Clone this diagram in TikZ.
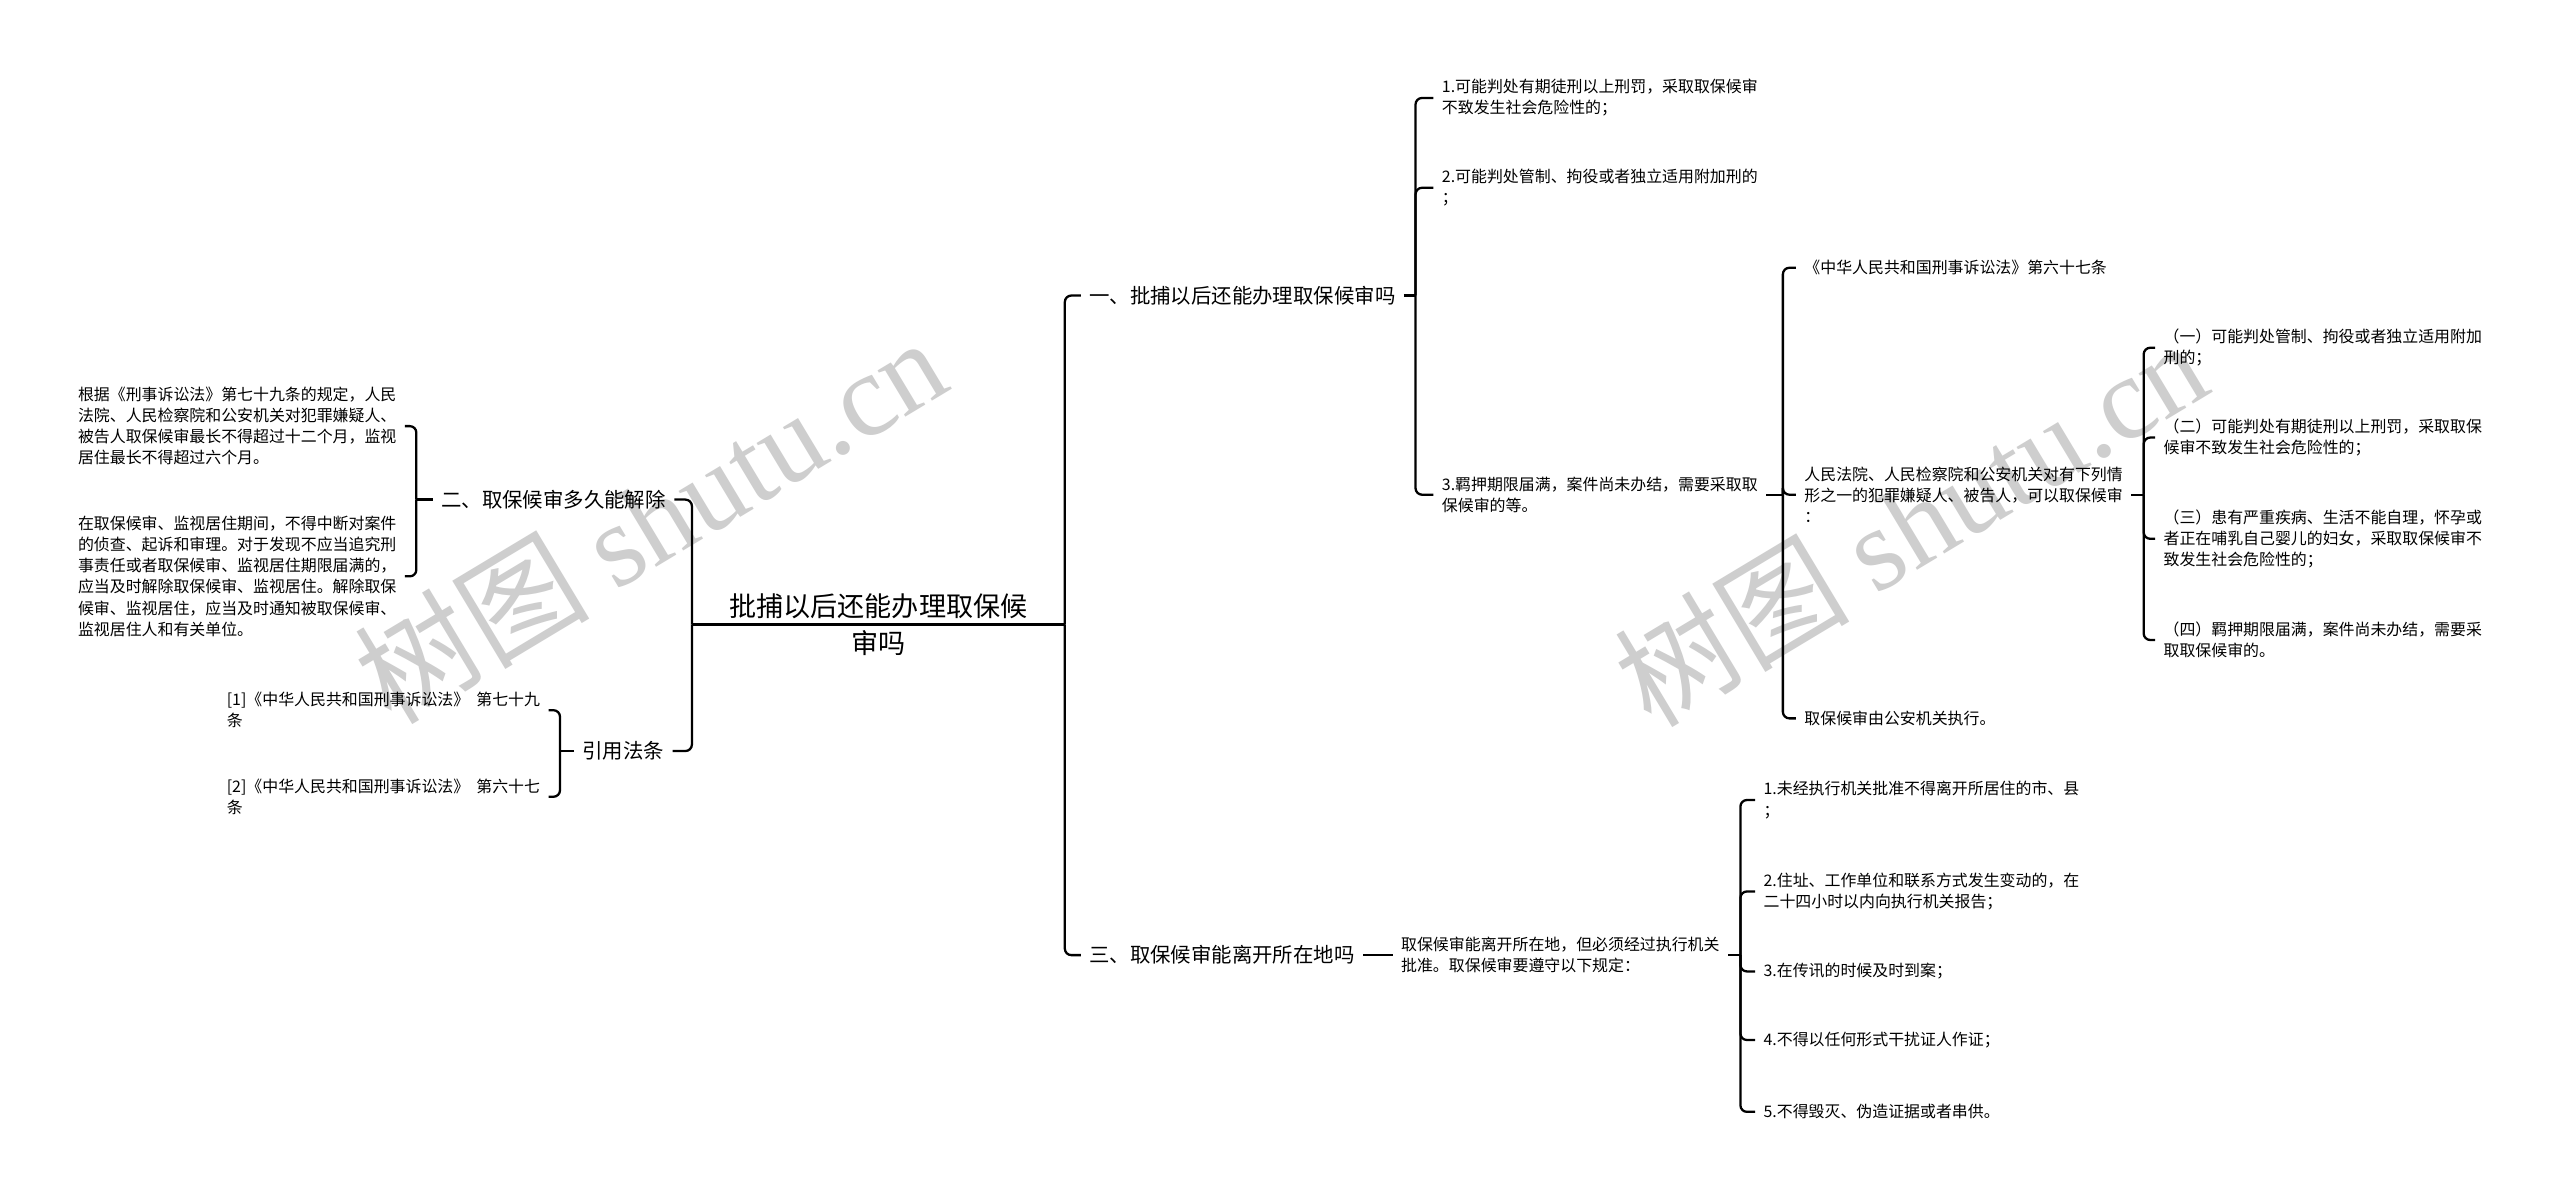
\documentclass[tikz,border=0pt]{standalone}
\usepackage{fontspec}
\setmainfont{Noto Sans CJK SC}
\newfontfamily\wmserif{Liberation Serif}
\definecolor{wmgray}{RGB}{206,206,206}
\tikzset{
  conn/.style={line width=1.4pt, rounded corners=4pt},
  rootbox/.style={font=\fontsize{16.6}{23}\selectfont, align=center, text width=228pt, inner sep=0pt},
  lvl/.style={font=\fontsize{12.5}{16}\selectfont, inner xsep=5pt, inner ysep=0pt},
  leaf/.style={font=\fontsize{9.75}{12.9}\selectfont, align=left, inner xsep=5pt, inner ysep=0pt},
  wm/.style={text=wmgray, font=\fontsize{72}{80}\selectfont, inner sep=0pt}
}
\begin{document}
\begin{tikzpicture}[x=1pt,y=-1pt]
\fill[white] (0,0) rectangle (1568,734);
\useasboundingbox (0,0) rectangle (1568,734);
% watermarks
\node[wm, rotate=31] (w1) at (398,318) {树图 {\wmserif shutu.cn}};
\node[wm, rotate=31] (w2) at (1170,320) {树图 {\wmserif shutu.cn}};
% root
\node[rootbox] (root) at (538,382.5) {批捕以后还能办理取保候\\审吗};
% level 1
\node[lvl, anchor=west] (b1) at (662,181) {一、批捕以后还能办理取保候审吗};
\node[lvl, anchor=east] (b2) at (413,306) {二、取保候审多久能解除};
\node[lvl, anchor=east] (b4) at (412,460) {引用法条};
\node[lvl, anchor=west] (b3) at (662,585) {三、取保候审能离开所在地吗};
\draw[conn] (root.west) -- (root.east);
\draw[conn] (root.east) |- (b1.west);
\draw[conn] (root.east) |- (b3.west);
\draw[conn] (root.west) |- (b2.east);
\draw[conn] (root.west) |- (b4.east);
% branch 1
\coordinate (s1) at (867,181);
\node[leaf, anchor=west] (a1) at (878,60) {1.可能判处有期徒刑以上刑罚，采取取保候审\\不致发生社会危险性的；};
\node[leaf, anchor=west] (a2) at (878,115) {2.可能判处管制、拘役或者独立适用附加刑的\\；};
\node[leaf, anchor=west] (a3) at (878,303) {3.羁押期限届满，案件尚未办结，需要采取取\\保候审的等。};
\draw[conn] (b1.east) -- (s1);
\draw[conn] (s1) |- (a1.west);
\draw[conn] (s1) |- (a2.west);
\draw[conn] (s1) |- (a3.west);
% branch 1 item 3
\coordinate (s3) at (1092,303);
\node[leaf, anchor=west] (c1) at (1100,164) {《中华人民共和国刑事诉讼法》第六十七条};
\node[leaf, anchor=west] (c2) at (1100,303) {人民法院、人民检察院和公安机关对有下列情\\形之一的犯罪嫌疑人、被告人，可以取保候审\\：};
\node[leaf, anchor=west] (c3) at (1100,440) {取保候审由公安机关执行。};
\draw[conn] (a3.east) -- (s3);
\draw[conn] (s3) |- (c1.west);
\draw[conn] (s3) |- (c2.west);
\draw[conn] (s3) |- (c3.west);
% c2 children
\coordinate (s5) at (1313,303);
\node[leaf, anchor=west] (d1) at (1320,213) {（一）可能判处管制、拘役或者独立适用附加\\刑的；};
\node[leaf, anchor=west] (d2) at (1320,268) {（二）可能判处有期徒刑以上刑罚，采取取保\\候审不致发生社会危险性的；};
\node[leaf, anchor=west] (d3) at (1320,330) {（三）患有严重疾病、生活不能自理，怀孕或\\者正在哺乳自己婴儿的妇女，采取取保候审不\\致发生社会危险性的；};
\node[leaf, anchor=west] (d4) at (1320,392) {（四）羁押期限届满，案件尚未办结，需要采\\取取保候审的。};
\draw[conn] (c2.east) -- (s5);
\draw[conn] (s5) |- (d1.west);
\draw[conn] (s5) |- (d2.west);
\draw[conn] (s5) |- (d3.west);
\draw[conn] (s5) |- (d4.west);
% branch 2
\coordinate (s2) at (255,306);
\node[leaf, anchor=east] (e1) at (248,261) {根据《刑事诉讼法》第七十九条的规定，人民\\法院、人民检察院和公安机关对犯罪嫌疑人、\\被告人取保候审最长不得超过十二个月，监视\\居住最长不得超过六个月。};
\node[leaf, anchor=east] (e2) at (248,353) {在取保候审、监视居住期间，不得中断对案件\\的侦查、起诉和审理。对于发现不应当追究刑\\事责任或者取保候审、监视居住期限届满的，\\应当及时解除取保候审、监视居住。解除取保\\候审、监视居住，应当及时通知被取保候审、\\监视居住人和有关单位。};
\draw[conn] (b2.west) -- (s2);
\draw[conn] (s2) |- (e1.east);
\draw[conn] (s2) |- (e2.east);
% branch cite
\coordinate (s4) at (343,460);
\node[leaf, anchor=east] (f1) at (336,435) {[1]《中华人民共和国刑事诉讼法》\ \ 第七十九\\条};
\node[leaf, anchor=east] (f2) at (336,488) {[2]《中华人民共和国刑事诉讼法》\ \ 第六十七\\条};
\draw[conn] (b4.west) -- (s4);
\draw[conn] (s4) |- (f1.east);
\draw[conn] (s4) |- (f2.east);
% branch 3
\node[leaf, anchor=west] (g) at (853,585) {取保候审能离开所在地，但必须经过执行机关\\批准。取保候审要遵守以下规定：};
\draw[conn] (b3.east) -- (g.west);
\coordinate (s6) at (1066,585);
\node[leaf, anchor=west] (h1) at (1075,490) {1.未经执行机关批准不得离开所居住的市、县\\；};
\node[leaf, anchor=west] (h2) at (1075,546) {2.住址、工作单位和联系方式发生变动的，在\\二十四小时以内向执行机关报告；};
\node[leaf, anchor=west] (h3) at (1075,595) {3.在传讯的时候及时到案；};
\node[leaf, anchor=west] (h4) at (1075,637) {4.不得以任何形式干扰证人作证；};
\node[leaf, anchor=west] (h5) at (1075,681) {5.不得毁灭、伪造证据或者串供。};
\draw[conn] (g.east) -- (s6);
\draw[conn] (s6) |- (h1.west);
\draw[conn] (s6) |- (h2.west);
\draw[conn] (s6) |- (h3.west);
\draw[conn] (s6) |- (h4.west);
\draw[conn] (s6) |- (h5.west);
\end{tikzpicture}
\end{document}
